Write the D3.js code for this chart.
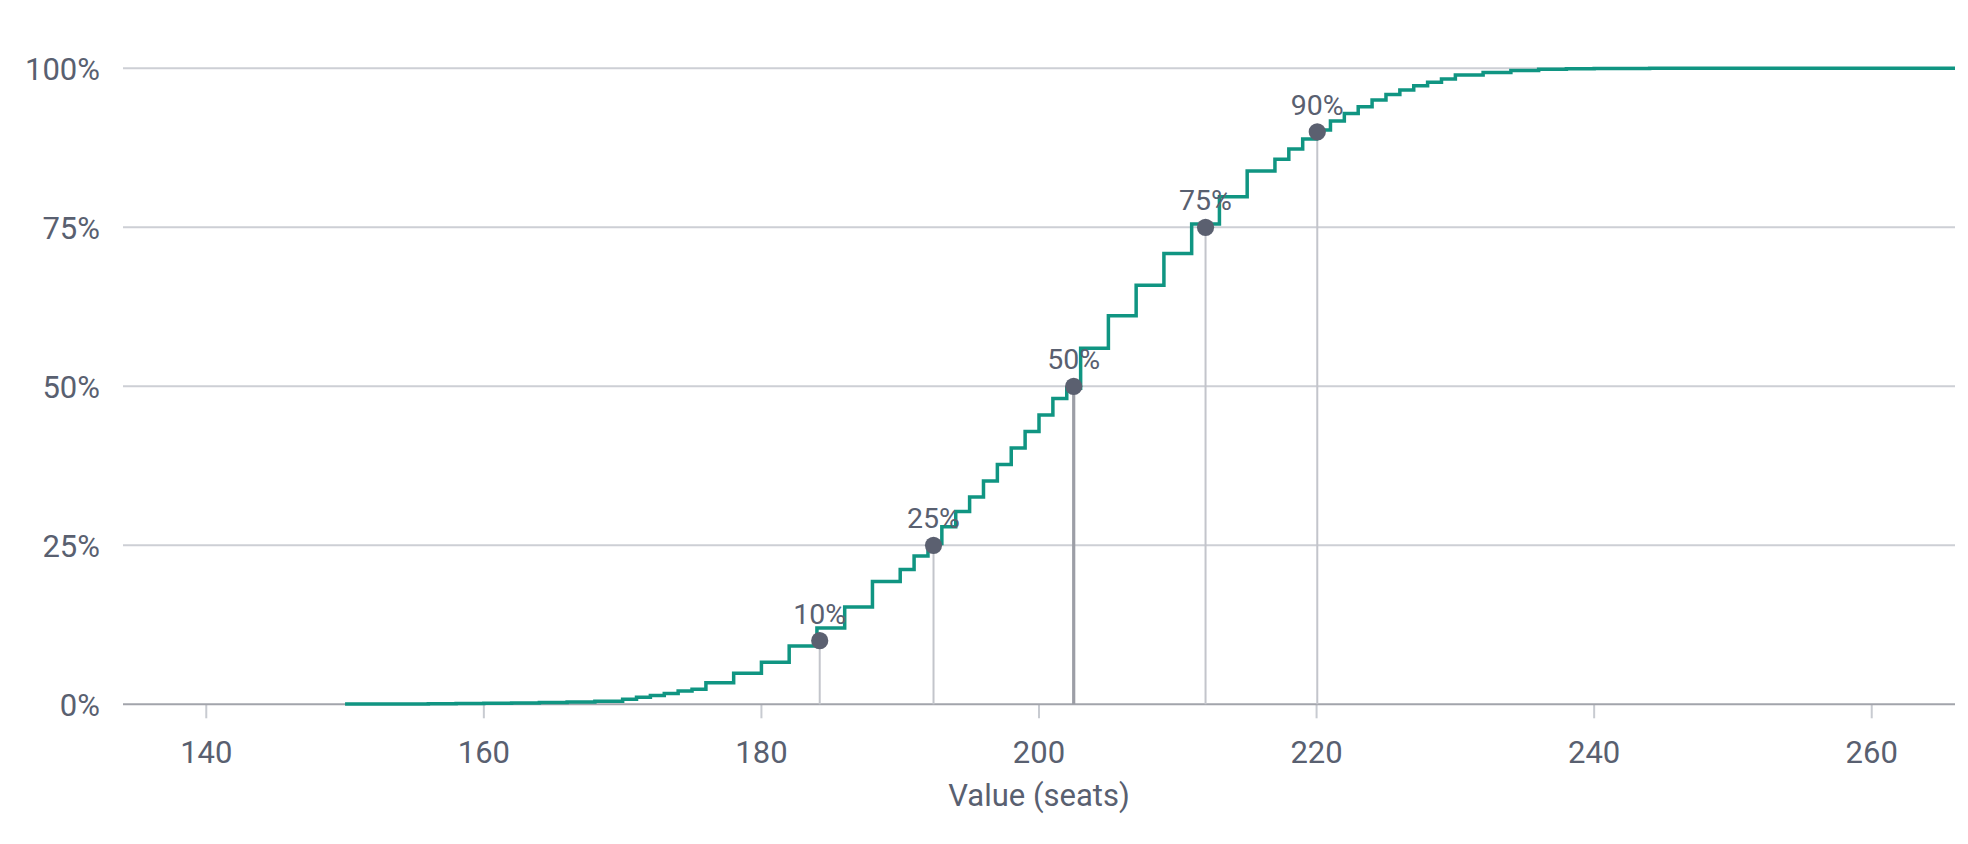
<!DOCTYPE html>
<html>
<head>
<meta charset="utf-8">
<script src="https://cdn.jsdelivr.net/npm/d3@7"></script>
<style>
  html, body { margin: 0; padding: 0; background: #ffffff; }
  svg { display: block; }
  text { font-family: Roboto, "Liberation Sans", sans-serif; fill: #596070; }
</style>
</head>
<body>
<svg id="chart" width="1968" height="844"></svg>
<script>
// ---- data ----
// step start (seats) and cumulative probability from that seat on
const seats = [150, 152, 154, 156, 158, 160, 162, 164, 166, 168, 170, 171, 172, 173, 174, 175, 176, 178, 180, 182, 184, 186, 188,
  190, 191, 192, 193, 194, 195, 196, 197, 198, 199, 200, 201, 202, 203, 205, 207, 209, 211, 213, 215, 217, 218, 219, 220,
  221, 222, 223, 224, 225, 226, 227, 228, 229, 230, 232, 234, 236, 238, 240, 244, 266];
const cdf = [0.0003, 0.0004, 0.0006, 0.0008, 0.0011, 0.0015, 0.002, 0.0027, 0.0036, 0.0048, 0.0079, 0.011, 0.014, 0.017, 0.021, 0.0236, 0.034, 0.0487, 0.066, 0.0917, 0.120, 0.153, 0.193,
  0.212, 0.233, 0.253, 0.279, 0.303, 0.326, 0.351, 0.377, 0.403, 0.429, 0.455, 0.481, 0.497, 0.560, 0.611, 0.659, 0.709, 0.755, 0.798, 0.8385, 0.857, 0.873, 0.889, 0.903,
  0.917, 0.929, 0.9397, 0.950, 0.959, 0.966, 0.9727, 0.978, 0.983, 0.9895, 0.9935, 0.9965, 0.9985, 0.9994, 0.9998, 1.0, 1.0];

const quantileLabels = ["10%", "25%", "50%", "75%", "90%"];
const quantileLevels = [0.10, 0.25, 0.50, 0.75, 0.90];
const quantileSeats = [184.2, 192.4, 202.5, 212.0, 220.05];

const xTicks = [140, 160, 180, 200, 220, 240, 260];
const yTicks = [0, 0.25, 0.5, 0.75, 1];
const xTitle = "Value (seats)";

// ---- layout ----
const svg = d3.select("#chart");
const plotLeft = 123, plotRight = 1955, plotTop = 68.3, plotBottom = 704.3;

const x = d3.scaleLinear().domain([134, 266]).range([plotLeft, plotRight]);
const y = d3.scaleLinear().domain([0, 1]).range([plotBottom, plotTop]);

// gridlines
svg.append("g").selectAll("line").data(yTicks.filter(d => d > 0)).join("line")
  .attr("x1", plotLeft).attr("x2", plotRight)
  .attr("y1", d => y(d)).attr("y2", d => y(d))
  .attr("stroke", "#cdcfd5").attr("stroke-width", 2);

// y labels
svg.append("g").selectAll("text").data(yTicks).join("text")
  .attr("x", 100).attr("y", d => y(d) + 12)
  .attr("text-anchor", "end")
  .attr("font-size", 31)
  .text(d => d3.format(".0%")(d));

// x axis ticks
svg.append("g").selectAll("line").data(xTicks).join("line")
  .attr("x1", d => x(d)).attr("x2", d => x(d))
  .attr("y1", plotBottom).attr("y2", plotBottom + 14)
  .attr("stroke", "#c8cbd1").attr("stroke-width", 2);

svg.append("g").selectAll("text").data(xTicks).join("text")
  .attr("x", d => x(d)).attr("y", plotBottom + 59)
  .attr("text-anchor", "middle")
  .attr("font-size", 31)
  .text(d => d);

// zero baseline
svg.append("line")
  .attr("x1", plotLeft).attr("x2", plotRight)
  .attr("y1", y(0)).attr("y2", y(0))
  .attr("stroke", "#a2a4ab").attr("stroke-width", 2);

// x title
svg.append("text")
  .attr("x", (plotLeft + plotRight) / 2).attr("y", 806)
  .attr("text-anchor", "middle")
  .attr("font-size", 31)
  .text(xTitle);

// quantile verticals
const qData = quantileLabels.map((l, i) => ({ label: l, p: quantileLevels[i], s: quantileSeats[i] }));
svg.append("g").selectAll("line").data(qData).join("line")
  .attr("x1", d => x(d.s)).attr("x2", d => x(d.s))
  .attr("y1", y(0)).attr("y2", d => y(d.p))
  .attr("stroke", d => d.p === 0.5 ? "#9c9ea6" : "#c3c5cb")
  .attr("stroke-width", d => d.p === 0.5 ? 3.2 : 2);

// step curve
const pts = seats.map((s, i) => [s, cdf[i]]);
const line = d3.line().x(d => x(d[0])).y(d => y(d[1])).curve(d3.curveStepAfter);
svg.append("path")
  .datum(pts)
  .attr("d", line)
  .attr("fill", "none")
  .attr("stroke", "#109582")
  .attr("stroke-width", 3.5)
  .attr("stroke-linejoin", "miter");

// quantile dots
svg.append("g").selectAll("circle").data(qData).join("circle")
  .attr("cx", d => x(d.s)).attr("cy", d => y(d.p))
  .attr("r", 8.6)
  .attr("fill", "#5b6070");

// quantile labels
svg.append("g").selectAll("text").data(qData).join("text")
  .attr("x", d => x(d.s)).attr("y", d => y(d.p) - 17)
  .attr("text-anchor", "middle")
  .attr("font-size", 28.5)
  .text(d => d.label);
</script>
</body>
</html>
